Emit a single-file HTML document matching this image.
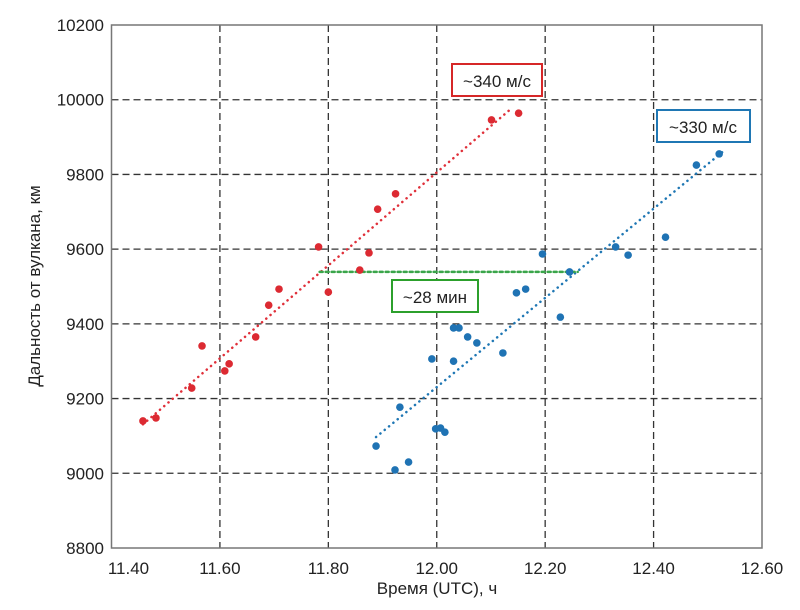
<!DOCTYPE html>
<html><head><meta charset="utf-8"><style>
body{margin:0;background:#fff;}
svg{display:block;font-family:"Liberation Sans",sans-serif;}
</style></head><body>
<svg id="chart" width="800" height="610">
<g id="grid"></g>
<rect x="111.5" y="25" width="650.5" height="523" fill="none" stroke="#777" stroke-width="1.5"/>
<g id="ticks"></g>
<g id="marks"></g>
<text x="40" y="286" font-size="17" fill="#222" text-anchor="middle" transform="rotate(-90 40 286)">Дальность от вулкана, км</text>
<text x="437" y="594" font-size="17" fill="#222" text-anchor="middle">Время (UTC), ч</text>
<rect x="452" y="64" width="90" height="32" fill="#fff" stroke="#d62728" stroke-width="2"/>
<text x="497" y="87" font-size="17" fill="#222" text-anchor="middle">~340 м/с</text>
<rect x="657" y="110" width="93" height="32" fill="#fff" stroke="#1f77b4" stroke-width="2"/>
<text x="703" y="133" font-size="17" fill="#222" text-anchor="middle">~330 м/с</text>
<rect x="392" y="280" width="86" height="32" fill="#fff" stroke="#2ca02c" stroke-width="2"/>
<text x="435" y="303" font-size="17" fill="#222" text-anchor="middle">~28 мин</text>
</svg>
<script>
const xTicks=[11.4,11.6,11.8,12.0,12.2,12.4,12.6];
const xTickLabels=["11.40","11.60","11.80","12.00","12.20","12.40","12.60"];
const yTicks=[8800,9000,9200,9400,9600,9800,10000,10200];
const redX=[11.458,11.482,11.548,11.567,11.609,11.617,11.666,11.690,11.709,11.782,11.800,11.858,11.875,11.891,11.924,12.101,12.151];
const redY=[9140,9148,9228,9341,9274,9293,9365,9450,9493,9606,9485,9544,9590,9707,9748,9946,9964];
const blueX=[11.888,11.923,11.932,11.948,11.991,11.998,12.007,12.015,12.031,12.041,12.031,12.057,12.074,12.122,12.147,12.164,12.195,12.228,12.245,12.330,12.353,12.422,12.479,12.521];
const blueY=[9073,9009,9177,9030,9306,9119,9121,9110,9389,9389,9300,9365,9349,9322,9483,9493,9587,9418,9539,9606,9584,9632,9825,9855];
const redFitX=[11.458,12.138];
const redFitY=[9131,9977];
const blueFitX=[11.888,12.527];
const blueFitY=[9097,9860];
const delayX=[11.784,12.26];
const delayY=[9539,9539];

const NS="http://www.w3.org/2000/svg";
const X0=111.5,X1=762,Y0=548,Y1=25;
function sx(v){return X0+(v-11.4)/(12.6-11.4)*(X1-X0);}
function sy(v){return Y0-(v-8800)/(10200-8800)*(Y0-Y1);}
function mk(tag,attrs,parent){const e=document.createElementNS(NS,tag);for(const k in attrs)e.setAttribute(k,attrs[k]);parent.appendChild(e);return e;}
const grid=document.getElementById('grid'),ticks=document.getElementById('ticks'),marks=document.getElementById('marks');
xTicks.forEach((t,i)=>{
  if(i>0&&i<xTicks.length-1){
    const l=mk('line',{x1:sx(t),x2:sx(t),y1:Y1,y2:Y0,stroke:'#333','stroke-width':1.3,'stroke-dasharray':'7,4'},grid);
    
    
  }
  const tx=mk('text',{x:i===0?sx(t)+17:sx(t),y:574,'font-size':17,fill:'#222','text-anchor':'middle'},ticks);
  tx.textContent=xTickLabels[i];
  
  
});
yTicks.forEach((t,i)=>{
  if(i>0&&i<yTicks.length-1){
    const l=mk('line',{x1:X0,x2:X1,y1:sy(t),y2:sy(t),stroke:'#333','stroke-width':1.3,'stroke-dasharray':'7,4'},grid);
    
    
  }
  const tx=mk('text',{x:104,y:sy(t)+6,'font-size':17,fill:'#222','text-anchor':'end'},ticks);
  tx.textContent=String(t);
  
  
});
function fit(xs,ys,color,name,dash){
  const l=mk('line',{x1:sx(xs[0]),y1:sy(ys[0]),x2:sx(xs[1]),y2:sy(ys[1]),stroke:color,'stroke-width':2.5,'stroke-dasharray':dash,'stroke-linecap':'round'},marks);
  
  
}
fit(redFitX,redFitY,'#e0303a','red-trend-line','0.1,5.5');
fit(blueFitX,blueFitY,'#1f77b4','blue-trend-line','0.1,5.5');
fit(delayX,delayY,'#3aa54a','delay-line','3,3');
function pts(xs,ys,color,name){
  xs.forEach((v,i)=>{
    const c=mk('circle',{cx:sx(v),cy:sy(ys[i]),r:3.8,fill:color},marks);
    
    
  });
}
pts(redX,redY,'#dc2a32','red-point');
pts(blueX,blueY,'#1f73b4','blue-point');
</script>
</body></html>
